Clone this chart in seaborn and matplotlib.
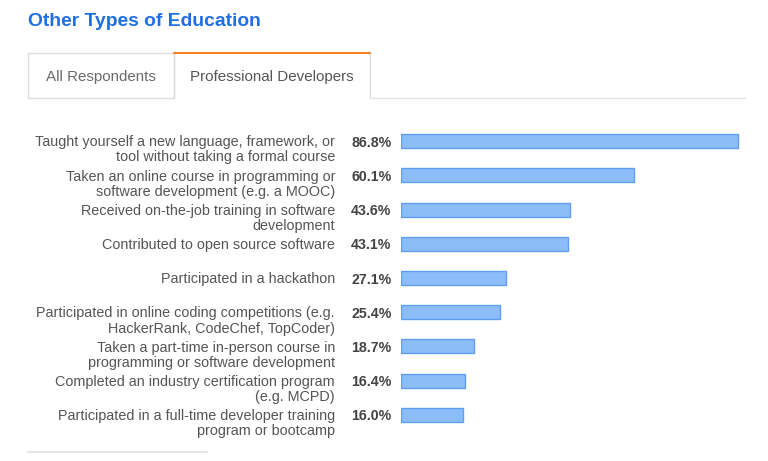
import matplotlib.pyplot as plt
import seaborn as sns
from matplotlib.patches import Rectangle
from matplotlib.lines import Line2D

labels = [
    "Taught yourself a new language, framework, or\ntool without taking a formal course",
    "Taken an online course in programming or\nsoftware development (e.g. a MOOC)",
    "Received on-the-job training in software\ndevelopment",
    "Contributed to open source software",
    "Participated in a hackathon",
    "Participated in online coding competitions (e.g.\nHackerRank, CodeChef, TopCoder)",
    "Taken a part-time in-person course in\nprogramming or software development",
    "Completed an industry certification program\n(e.g. MCPD)",
    "Participated in a full-time developer training\nprogram or bootcamp",
]
values = [86.8, 60.1, 43.6, 43.1, 27.1, 25.4, 18.7, 16.4, 16.0]
tabs = ["All Respondents", "Professional Developers"]

W, H = 768, 461
sns.set_theme(style="white")
plt.rcParams['font.family'] = ['Liberation Sans', 'DejaVu Sans']

fig = plt.figure(figsize=(W / 100, H / 100), dpi=100)

def fx(px):
    return px / W

def fy(py):
    return 1 - py / H

# bar area
ax_left, ax_right, ax_top, ax_bottom = 401, 745, 124, 432
ax = fig.add_axes([fx(ax_left), fy(ax_bottom), fx(ax_right - ax_left), (ax_bottom - ax_top) / H])
sns.barplot(x=values, y=list(range(len(values))), orient="h", color="#8dbdf8",
            edgecolor="#5e9ff2", linewidth=1.0, width=0.41, saturation=1, ax=ax)
px_per_unit = 337 / 86.8
ax.set_xlim(0, (ax_right - ax_left) / px_per_unit)
ax.set_ylim(len(values) - 0.5, -0.5)
ax.axis("off")

for i, (lab, v) in enumerate(zip(labels, values)):
    ax.text((335 - ax_left) / px_per_unit, i - 0.17, lab, ha="right", va="top",
            fontsize=10.4, color="#555555", linespacing=1.1, clip_on=False)
    ax.text((351 - ax_left) / px_per_unit, i, f"{v:.1f}%", ha="left", va="center_baseline",
            fontsize=10.2, fontweight="bold", color="#444444", clip_on=False)

# title
fig.text(fx(28), fy(20), "Other Types of Education", ha="left", va="center_baseline",
         fontsize=13.9, fontweight="bold", color="#1f6fe3")

# tabs
border = "#dddddd"
fig.add_artist(Rectangle((fx(28), fy(98)), fx(174 - 28), (98 - 53) / H,
                         facecolor="white", edgecolor=border, linewidth=1))
fig.add_artist(Line2D([fx(174), fx(174)], [fy(98), fy(53)], color=border, lw=1))
fig.add_artist(Line2D([fx(370), fx(370)], [fy(98), fy(53)], color=border, lw=1))
fig.add_artist(Line2D([fx(174), fx(370)], [fy(53), fy(53)], color="#f48024", lw=1.5))
fig.add_artist(Line2D([fx(370), fx(745)], [fy(98), fy(98)], color="#e4e4e4", lw=1))
fig.text(fx(101), fy(76), tabs[0], ha="center", va="center_baseline", fontsize=10.9, color="#6a6a6a")
fig.text(fx(272), fy(76), tabs[1], ha="center", va="center_baseline", fontsize=10.9, color="#555555")

# bottom separator
fig.add_artist(Line2D([fx(28), fx(207)], [fy(452), fy(452)], color="#e6e6e6", lw=1.5))

fig.savefig("out.png", dpi=100)
